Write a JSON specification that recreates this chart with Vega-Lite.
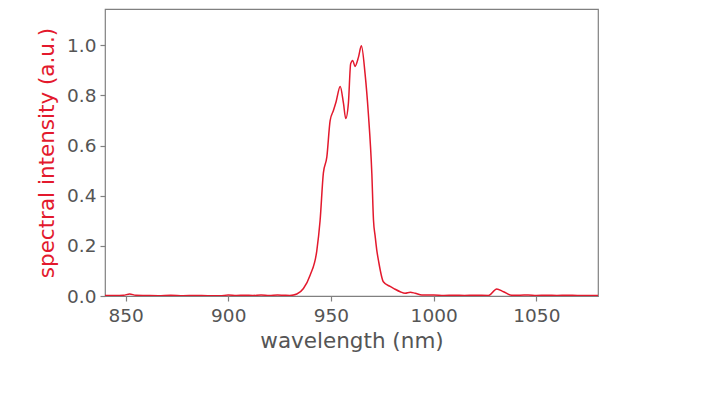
{
  "$schema": "https://vega.github.io/schema/vega-lite/v6.json",
  "autosize": {"type": "none"},
  "width": 493,
  "height": 287,
  "padding": {"left": 105, "top": 9, "right": 105, "bottom": 97},
  "background": "white",
  "config": {
    "view": {"stroke": "#808080", "strokeWidth": 1.2},
    "font": "DejaVu Sans",
    "axis": {
      "domain": false,
      "grid": false,
      "tickColor": "#808080",
      "tickSize": 5,
      "tickWidth": 1.2,
      "labelColor": "#555555",
      "labelFont": "DejaVu Sans",
      "labelFontSize": 18.5,
      "titleFont": "DejaVu Sans",
      "titleFontWeight": "normal",
      "titleFontSize": 21.5,
      "titleColor": "#555555"
    }
  },
  "data": {
    "values": [
      {"w": 840, "v": 0.002}, {"w": 845, "v": 0.002}, {"w": 849, "v": 0.003},
      {"w": 852, "v": 0.008}, {"w": 855, "v": 0.003}, {"w": 860, "v": 0.002},
      {"w": 866, "v": 0.001}, {"w": 872, "v": 0.003}, {"w": 878, "v": 0.001},
      {"w": 884, "v": 0.002}, {"w": 890, "v": 0.001}, {"w": 896, "v": 0.001},
      {"w": 900, "v": 0.004}, {"w": 904, "v": 0.002}, {"w": 908, "v": 0.003},
      {"w": 912, "v": 0.002}, {"w": 916, "v": 0.004}, {"w": 920, "v": 0.002},
      {"w": 924, "v": 0.004}, {"w": 927, "v": 0.003}, {"w": 930, "v": 0.002},
      {"w": 933.4, "v": 0.008}, {"w": 936.6, "v": 0.03}, {"w": 939.9, "v": 0.084},
      {"w": 943.1, "v": 0.18}, {"w": 944.7, "v": 0.3}, {"w": 946.3, "v": 0.49},
      {"w": 948.0, "v": 0.555}, {"w": 949.6, "v": 0.70}, {"w": 951.2, "v": 0.74},
      {"w": 952.5, "v": 0.775}, {"w": 954.5, "v": 0.836}, {"w": 956.1, "v": 0.768},
      {"w": 957.2, "v": 0.708}, {"w": 958.5, "v": 0.77}, {"w": 959.6, "v": 0.927},
      {"w": 960.6, "v": 0.94}, {"w": 961.7, "v": 0.916}, {"w": 963.4, "v": 0.953},
      {"w": 964.8, "v": 0.998}, {"w": 966.6, "v": 0.887}, {"w": 968.2, "v": 0.728},
      {"w": 969.9, "v": 0.489}, {"w": 970.7, "v": 0.303}, {"w": 971.5, "v": 0.24},
      {"w": 972.3, "v": 0.183}, {"w": 973.1, "v": 0.143}, {"w": 975.5, "v": 0.057},
      {"w": 978.8, "v": 0.038}, {"w": 981, "v": 0.028}, {"w": 983.7, "v": 0.017},
      {"w": 986.1, "v": 0.011}, {"w": 988.6, "v": 0.015}, {"w": 991.0, "v": 0.011},
      {"w": 994.3, "v": 0.004}, {"w": 1000, "v": 0.004}, {"w": 1005, "v": 0.002},
      {"w": 1010, "v": 0.003}, {"w": 1015, "v": 0.002}, {"w": 1020, "v": 0.003},
      {"w": 1026.7, "v": 0.002}, {"w": 1030.7, "v": 0.028}, {"w": 1034, "v": 0.017},
      {"w": 1038, "v": 0.003}, {"w": 1042, "v": 0.003}, {"w": 1046, "v": 0.004},
      {"w": 1050, "v": 0.002}, {"w": 1055, "v": 0.003}, {"w": 1060, "v": 0.002},
      {"w": 1065, "v": 0.003}, {"w": 1070, "v": 0.002}, {"w": 1075, "v": 0.002},
      {"w": 1080, "v": 0.002}
    ]
  },
  "mark": {"type": "line", "color": "#e3192d", "strokeWidth": 1.5, "interpolate": "monotone", "clip": true},
  "encoding": {
    "x": {
      "field": "w", "type": "quantitative",
      "scale": {"domain": [840, 1080], "nice": false, "zero": false},
      "axis": {"values": [850, 900, 950, 1000, 1050], "format": "d", "title": "wavelength (nm)", "labelPadding": 5, "titlePadding": 6}
    },
    "y": {
      "field": "v", "type": "quantitative",
      "scale": {"domain": [0, 1.145], "nice": false},
      "axis": {"values": [0, 0.2, 0.4, 0.6, 0.8, 1.0], "format": ".1f", "title": "spectral intensity (a.u.)", "titleColor": "#e3192d", "labelPadding": 4, "titlePadding": 8}
    }
  }
}
